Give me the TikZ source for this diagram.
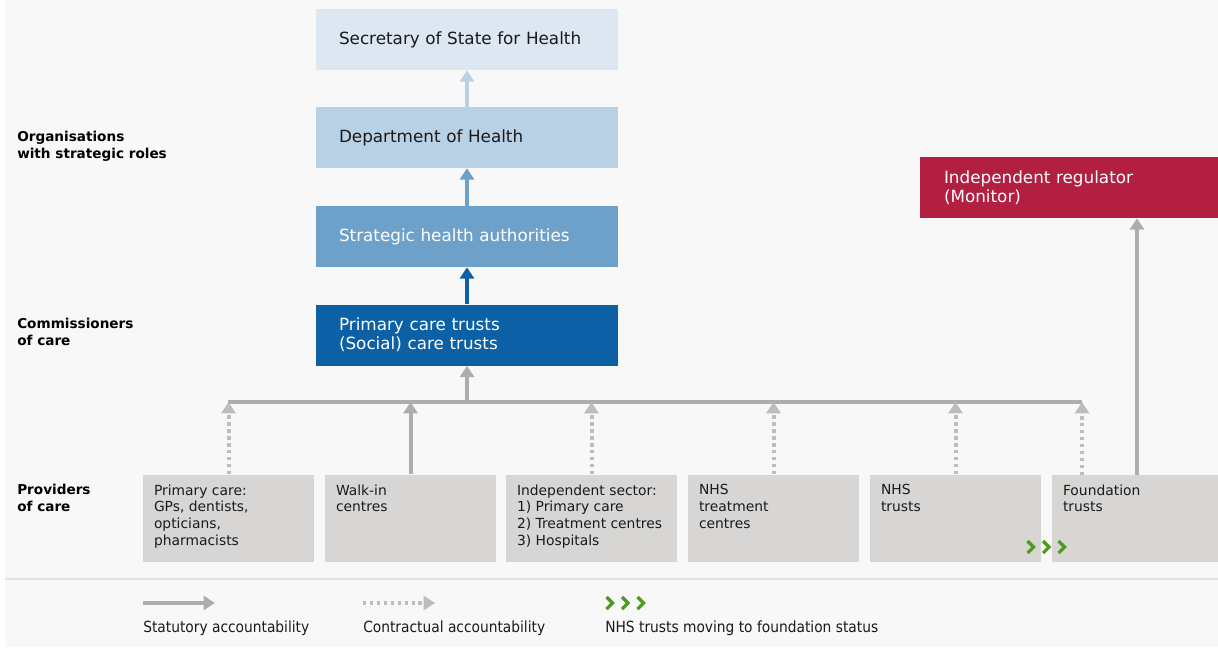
\documentclass[tikz,border=0pt]{standalone}
\usepackage{fontspec}
\setmainfont{DejaVu Sans}
\newfontfamily\condfont{DejaVu Sans Condensed}
\usetikzlibrary{arrows.meta}
\definecolor{bgC}{HTML}{F8F8F8}
\definecolor{sepC}{HTML}{E3E3E3}
\definecolor{pboxC}{HTML}{D7D6D5}
\definecolor{gArr}{HTML}{AFACAC}
\definecolor{dArr}{HTML}{BEBCBC}
\definecolor{secC}{HTML}{DCE7F1}
\definecolor{dohC}{HTML}{B8D1E4}
\definecolor{shaC}{HTML}{6EA1CA}
\definecolor{pctC}{HTML}{0C60A6}
\definecolor{monC}{HTML}{B21F41}
\definecolor{grnC}{HTML}{4D9B1E}
\definecolor{ink}{HTML}{1A1A1A}
\newcommand\chevron[2]{\draw[chevstyle] (#1,#2-6) -- (#1+6,#2) -- (#1,#2+6);}
\begin{document}
\begin{tikzpicture}[x=0.75pt,y=-0.75pt,
  topbox/.style={rectangle, inner ysep=0pt, inner xsep=17.25pt, minimum width=226.5pt,
    minimum height=45.75pt, text width=192pt, align=left,
    font=\fontsize{12.6}{14.5}\selectfont},
  pbox/.style={rectangle, fill=pboxC, inner sep=0pt, minimum width=128.25pt, minimum height=65.25pt},
  ptext/.style={anchor=north west, inner sep=0pt, align=left, text=ink,
    font=\fontsize{10.4}{12.5}\selectfont},
  side/.style={anchor=north west, inner sep=0pt, align=left, text=black,
    font=\fontsize{10.2}{12.5}\selectfont\bfseries},
  tip/.style={-{Triangle[width=10.5pt,length=8.5pt]}},
  gline/.style={draw=gArr, line width=3pt},
  dline/.style={draw=dArr, line width=3pt, dash pattern=on 2.6pt off 2.6pt},
  chevstyle/.style={draw=grnC, line width=2.4pt, miter limit=10},
  legtext/.style={anchor=west, inner sep=0pt, text=ink, font=\condfont\fontsize{11.5}{13}\selectfont}
]
\useasboundingbox (0,0) rectangle (1218,647);
\fill[white] (0,0) rectangle (1218,647);
\fill[bgC] (5,0) rectangle (1218,647);
\draw[sepC, line width=1.5pt] (5,579) -- (1218,579);

% side labels
\node[side] (lab1) at (17,131) {Organisations\\with strategic roles};
\node[side] (lab2) at (17,318) {Commissioners\\of care};
\node[side] (lab3) at (17,484) {Providers\\of care};

% top column
\node[topbox, fill=secC, text=ink] (sec) at (467,39.5) {Secretary of State for Health};
\node[topbox, fill=dohC, text=ink] (doh) at (467,137.5) {Department of Health};
\node[topbox, fill=shaC, text=white] (sha) at (467,236.5) {Strategic health authorities};
\node[topbox, fill=pctC, text=white] (pct) at (467,335) {Primary care trusts\\(Social) care trusts};
\node[topbox, fill=monC, text=white, minimum width=223.5pt, text width=187.5pt, inner xsep=18pt] (mon) at (1069,187.5) {Independent regulator\\(Monitor)};

\draw[draw=dohC, line width=3pt, tip] (doh.north) -- (sec.south);
\draw[draw=shaC, line width=3pt, tip] (sha.north) -- (doh.south);
\draw[draw=pctC, line width=3pt, tip] (pct.north) -- (sha.south);

% providers
\node[pbox] (p1) at (228.5,518) {};
\node[pbox] (p2) at (410.5,518) {};
\node[pbox] (p3) at (591.5,518) {};
\node[pbox] (p4) at (773.5,518) {};
\node[pbox] (p5) at (955.5,518) {};
\node[pbox, minimum width=124.5pt] (p6) at (1135,518) {};

\node[ptext] (t1) at ([shift={(11,10)}]p1.north west) {Primary care:\\GPs, dentists,\\opticians,\\pharmacists};
\node[ptext] (t2) at ([shift={(11,10)}]p2.north west) {Walk-in\\centres};
\node[ptext] (t3) at ([shift={(11,10)}]p3.north west) {Independent sector:\\1) Primary care\\2) Treatment centres\\3) Hospitals};
\node[ptext] (t4) at ([shift={(11,10)}]p4.north west) {NHS\\treatment\\centres};
\node[ptext] (t5) at ([shift={(11,10)}]p5.north west) {NHS\\trusts};
\node[ptext] (t6) at ([shift={(11,10)}]p6.north west) {Foundation\\trusts};

% bus
\coordinate (busL) at (228,402);
\coordinate (busR) at (1082,402);
\coordinate (f6a) at (1082,475);
\coordinate (f6m) at (1137,475);
\draw[gline] (busL) -- (busR);
\draw[gline, tip] (pct.south |- busL) -- (pct.south);
\draw[dline, tip] (p1.north) -- (p1.north |- busL);
\draw[gline, tip] (p2.north) -- (p2.north |- busL);
\draw[dline, tip] (p3.north) -- (p3.north |- busL);
\draw[dline, tip] (p4.north) -- (p4.north |- busL);
\draw[dline, tip] (p5.north) -- (p5.north |- busL);
\draw[dline, tip] (f6a) -- (f6a |- busL);
\draw[gline, tip] (f6m) -- (f6m |- mon.south);

% moving chevrons
\chevron{1027.5}{547}
\chevron{1043}{547}
\chevron{1058.5}{547}

% legend
\coordinate (la1) at (143,603);
\coordinate (lb1) at (215,603);
\coordinate (la2) at (363,603);
\coordinate (lb2) at (435,603);
\draw[gline, tip] (la1) -- (lb1);
\draw[dline, tip] (la2) -- (lb2);
\chevron{606.5}{603}
\chevron{622}{603}
\chevron{637.5}{603}
\node[legtext] (lt1) at (143,628.5) {Statutory accountability};
\node[legtext] (lt2) at (363,628.5) {Contractual accountability};
\node[legtext] (lt3) at (605,628.5) {NHS trusts moving to foundation status};
\end{tikzpicture}
\end{document}
